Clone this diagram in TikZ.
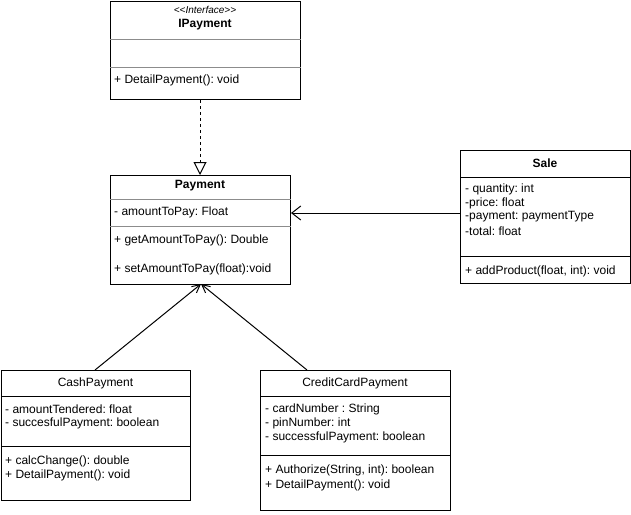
\documentclass[tikz,border=0pt]{standalone}
\usepackage{fontspec}
\setmainfont{Liberation Sans}
\usetikzlibrary{arrows.meta}
\frenchspacing

\begin{document}
\begin{tikzpicture}[x=1pt,y=-1pt]
	    \tikzstyle{classbox}=[draw, line width=1pt, anchor=north west, inner sep=0pt]
	    \tikzstyle{title}=[inner sep=0pt, font=\fontsize{12}{14}\selectfont\bfseries]
	    \tikzstyle{plaintitle}=[inner sep=0pt, font=\fontsize{12}{14}\selectfont]
	    \tikzstyle{member}=[anchor=west, inner sep=0pt, font=\fontsize{12}{14}\selectfont]
	    \tikzstyle{sep}=[line width=1pt, black]
	    \tikzstyle{greysep}=[line width=1pt, black!45]
	    \tikzstyle{edge}=[draw, line width=1pt, black]
	    \useasboundingbox (0,0) rectangle (631,514);
	    % interface
	    \node[classbox, minimum width=190pt, minimum height=98pt] (ipay) at (110,1) {};
	    \node[inner sep=0pt, font=\fontsize{10}{11}\selectfont\itshape] (ipayStereo) at (205,10) {<{}<Interface>{}>};
	    \node[title] (ipayTitle) at (205,25) {IPayment};
	    \draw[greysep] (ipay.west |- 0,39) -- (ipay.east |- 0,39);
	    \draw[greysep] (ipay.west |- 0,67) -- (ipay.east |- 0,67);
	    \node[member] (ipayM1) at (114,80) {+ DetailPayment(): void};
	    % payment
	    \node[classbox, minimum width=180pt, minimum height=109pt] (pay) at (110,175) {};
	    \node[title] (payTitle) at (200,186) {Payment};
	    \draw[greysep] (pay.west |- 0,199) -- (pay.east |- 0,199);
	    \node[member] (payA1) at (114,212) {- amountToPay: Float};
	    \draw[greysep] (pay.west |- 0,226) -- (pay.east |- 0,226);
	    \node[member] (payM1) at (114,240) {+ getAmountToPay(): Double};
	    \node[member] (payM2) at (114,269) {+ setAmountToPay(float):void};
	    % sale
	    \node[classbox, minimum width=170pt, minimum height=133pt] (sale) at (460,150) {};
	    \node[title] (saleTitle) at (545,163) {Sale};
	    \draw[sep] (sale.west |- 0,177) -- (sale.east |- 0,177);
	    \node[member] (saleA1) at (465,189) {- quantity: int};
	    \node[member] (saleA2) at (465,203) {-price: float};
	    \node[member] (saleA3) at (465,217) {-payment: paymentType};
	    \node[member] (saleA4) at (465,231) {-total: float};
	    \draw[sep] (sale.west |- 0,256) -- (sale.east |- 0,256);
	    \node[member] (saleM1) at (465,271) {+ addProduct(float, int): void};
	    % cash
	    \node[classbox, minimum width=189pt, minimum height=130pt] (cash) at (1,370) {};
	    \node[plaintitle] (cashTitle) at (95.5,383) {CashPayment};
	    \draw[sep] (cash.west |- 0,396) -- (cash.east |- 0,396);
	    \node[member] (cashA1) at (5,409) {- amountTendered: float};
	    \node[member] (cashA2) at (5,423) {- succesfulPayment: boolean};
	    \draw[sep] (cash.west |- 0,446) -- (cash.east |- 0,446);
	    \node[member] (cashM1) at (5,461) {+ calcChange(): double};
	    \node[member] (cashM2) at (5,475) {+ DetailPayment(): void};
	    % credit card
	    \node[classbox, minimum width=190pt, minimum height=140pt] (card) at (260,370) {};
	    \node[plaintitle] (cardTitle) at (355,383) {CreditCardPayment};
	    \draw[sep] (card.west |- 0,396) -- (card.east |- 0,396);
	    \node[member] (cardA1) at (265,409) {- cardNumber : String};
	    \node[member] (cardA2) at (265,423) {- pinNumber: int};
	    \node[member] (cardA3) at (265,437) {- successfulPayment: boolean};
	    \draw[sep] (card.west |- 0,455) -- (card.east |- 0,455);
	    \node[member] (cardM1) at (265,470) {+ Authorize(String, int): boolean};
	    \node[member] (cardM2) at (265,485) {+ DetailPayment(): void};
	    % connectors
	    \coordinate (saleEnd) at (460,213);
	    \coordinate (cardTop) at (307,370);
	    \coordinate (payBottom) at (201,284);
	    \draw[edge, dashed, -{Triangle[open, length=13pt, width=13pt]}] (ipay.south -| 200,0) -- (pay.north -| 200,0);
	    \draw[edge, -{Straight Barb[length=9pt, width=14pt]}] (saleEnd) -- (pay.east |- saleEnd);
	    \draw[edge, -{Straight Barb[length=8pt, width=8pt]}] (cash.north -| 95,0) -- (payBottom);
	    \draw[edge, -{Straight Barb[length=8pt, width=8pt]}] (cardTop) -- (payBottom);
	\end{tikzpicture}
\end{document}
